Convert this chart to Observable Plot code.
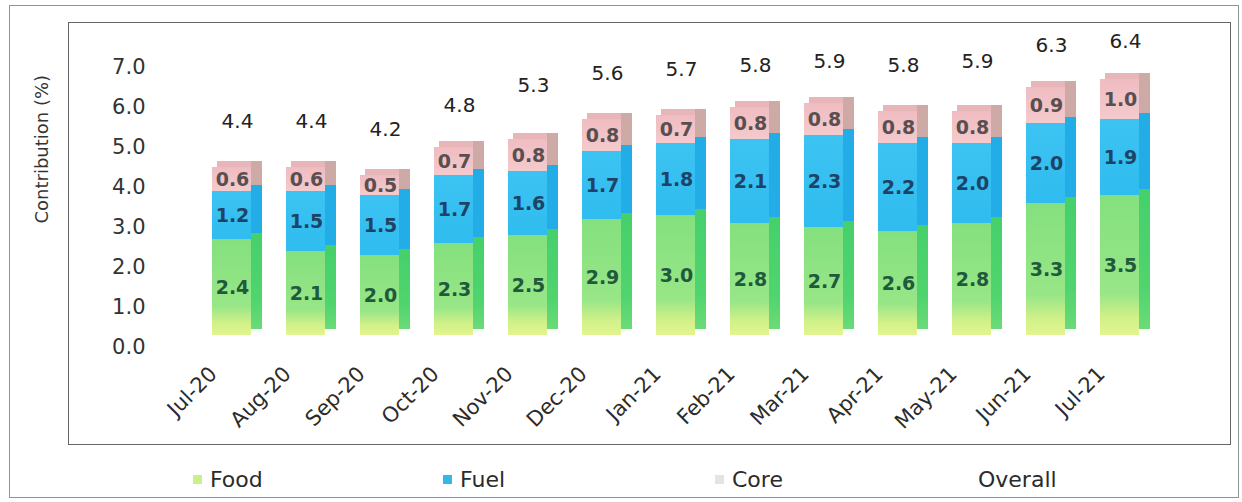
<!DOCTYPE html>
<html>
<head>
<meta charset="utf-8">
<script src="https://cdn.jsdelivr.net/npm/d3@7"></script>
<script src="https://cdn.jsdelivr.net/npm/@observablehq/plot@0.6"></script>
<style>
  body { margin: 0; background: #fff; font-family: "DejaVu Sans", sans-serif; }
  #wrap { position: relative; width: 1242px; height: 502px; overflow: hidden; background: #fff; }
  .box { position: absolute; pointer-events: none; z-index: 3; box-sizing: border-box; }
  #outer { left: 9px; top: 5px; width: 1230px; height: 493px; border: 1.5px solid #8d9397; }
  #inner { left: 68px; top: 22px; width: 1163px; height: 423px; border: 1.5px solid #666; }
  #chart { position: absolute; left: 0; top: 0; z-index: 1; }
  .legend { position: absolute; top: 465px; left: 0; width: 1242px; height: 32px; z-index: 2; font-size: 22px; color: #2b2b2b; }
  .item { position: absolute; top: 0; line-height: 30px; white-space: nowrap; }
  .sw { display: inline-block; width: 9px; height: 9px; margin-right: 8px; vertical-align: middle; position: relative; top: -2px; }
</style>
</head>
<body>
<div id="wrap">
  <div id="chart"></div>
  <div class="box" id="outer"></div>
  <div class="box" id="inner"></div>
  <div class="legend" id="legend"></div>
</div>
<script>
// ---- data ----
const months = ["Jul-20", "Aug-20", "Sep-20", "Oct-20", "Nov-20", "Dec-20", "Jan-21", "Feb-21", "Mar-21", "Apr-21", "May-21", "Jun-21", "Jul-21"];
const food    = [2.4, 2.1, 2.0, 2.3, 2.5, 2.9, 3.0, 2.8, 2.7, 2.6, 2.8, 3.3, 3.5];
const fuel    = [1.2, 1.5, 1.5, 1.7, 1.6, 1.7, 1.8, 2.1, 2.3, 2.2, 2.0, 2.0, 1.9];
const core    = [0.6, 0.6, 0.5, 0.7, 0.8, 0.8, 0.7, 0.8, 0.8, 0.8, 0.8, 0.9, 1.0];
const overall = [4.4, 4.4, 4.2, 4.8, 5.3, 5.6, 5.7, 5.8, 5.9, 5.8, 5.9, 6.3, 6.4];
const seriesNames = ["Food", "Fuel", "Core"];
const yTicks = [0, 1, 2, 3, 4, 5, 6, 7];
const legendNames = ["Food", "Fuel", "Core", "Overall"];
const yTitle = "Contribution (%)";

// ---- tables built from arrays ----
const seriesValues = {Food: food, Fuel: fuel, Core: core};
const rows = months.flatMap((m, i) => seriesNames.map(s => ({month: m, series: s, value: seriesValues[s][i]})));
const totals = months.map((m, i) => ({month: m, total: food[i] + fuel[i] + core[i], overall: overall[i]}));

const labelColors = {Food: "#1f5a3c", Fuel: "#1d4466", Core: "#5a4f50"};
const fmt = d3.format(".1f");

const segLabel = s => Plot.text(rows, Plot.stackY({
  x: "month", y: "value",
  text: d => d.series === s ? fmt(d.value) : null,
  fill: labelColors[s], fontSize: 19, fontWeight: "bold", dx: -5
}));

const plot = Plot.plot({
  width: 1242,
  height: 460,
  marginLeft: 150,
  marginRight: 60,
  marginTop: 20,
  marginBottom: 120,
  style: {background: "transparent", fontFamily: "DejaVu Sans, sans-serif", color: "#333"},
  x: {domain: months, range: [183.4, 1178.6], padding: 0.33, label: null},
  y: {domain: [0, 7], range: [335, 55], label: null},
  color: {
    type: "ordinal",
    domain: ["Food", "Fuel", "Core", "FoodSide", "FuelSide", "CoreSide", "Top"],
    range: ["url(#gFood)", "url(#gFuel)", "url(#gCore)", "url(#gFoodSide)", "#22ade6", "#cdaaa6", "#e8b6b8"]
  },
  marks: [
    // top face of the 3D bar
    Plot.barY(totals, {x: "month", y1: "total", y2: "total", insetTop: -6, insetLeft: 5, fill: () => "Top"}),
    // side faces
    Plot.barY(rows, Plot.stackY({x: "month", y: "value", fill: d => d.series + "Side", insetLeft: 39, dy: -6})),
    // front faces
    Plot.barY(rows, Plot.stackY({x: "month", y: "value", fill: "series", insetRight: 11})),
    segLabel("Food"),
    segLabel("Fuel"),
    segLabel("Core"),
    // overall labels
    Plot.text(totals, {x: "month", y: "overall", text: d => fmt(d.overall), dy: -38, fontSize: 20, fill: "#222"}),
    Plot.axisY({ticks: yTicks, tickFormat: fmt, tickSize: 0, tickPadding: 5, fontSize: 21, dy: 12, label: null, fill: "#333"}),
    Plot.axisX({tickRotate: -45, tickSize: 0, tickPadding: 30, fontSize: 21, dx: -24, label: null, fill: "#2b2b2b"}),
    Plot.text([yTitle], {frameAnchor: "left", dx: -108, dy: 43, rotate: -90, fontSize: 18, fill: "#333"})
  ]
});

// gradient definitions for the pseudo-3D look
const defs = d3.select(plot).insert("defs", ":first-child");
function grad(id, stops, horiz) {
  const g = defs.append("linearGradient").attr("id", id)
    .attr("x1", 0).attr("y1", horiz ? 0 : 1).attr("x2", horiz ? 1 : 0).attr("y2", 0);
  stops.forEach(([o, c]) => g.append("stop").attr("offset", o).attr("stop-color", c));
}
grad("gFood", [[0, "#e2f590"], [0.12, "#d2f189"], [0.3, "#98e687"], [1, "#84e07e"]]);
grad("gFoodSide", [[0, "#6bdb78"], [0.3, "#50d46e"], [1, "#45d06c"]]);
grad("gFuel", [[0, "#30bcef"], [1, "#3cc3f2"]]);
grad("gCore", [[0, "#f4cacd"], [1, "#efbcc1"]]);

document.getElementById("chart").appendChild(plot);

// legend
const legendColors = {Food: "#c9f08d", Fuel: "#34b9e6", Core: "#e4e4e4", Overall: null};
const legendLeft = {Food: 193, Fuel: 443, Core: 715, Overall: 978};
const leg = d3.select("#legend");
legendNames.forEach(n => {
  const it = leg.append("div").attr("class", "item").style("left", legendLeft[n] + "px");
  if (legendColors[n]) it.append("span").attr("class", "sw").style("background", legendColors[n]);
  it.append("span").text(n);
});
</script>
</body>
</html>
